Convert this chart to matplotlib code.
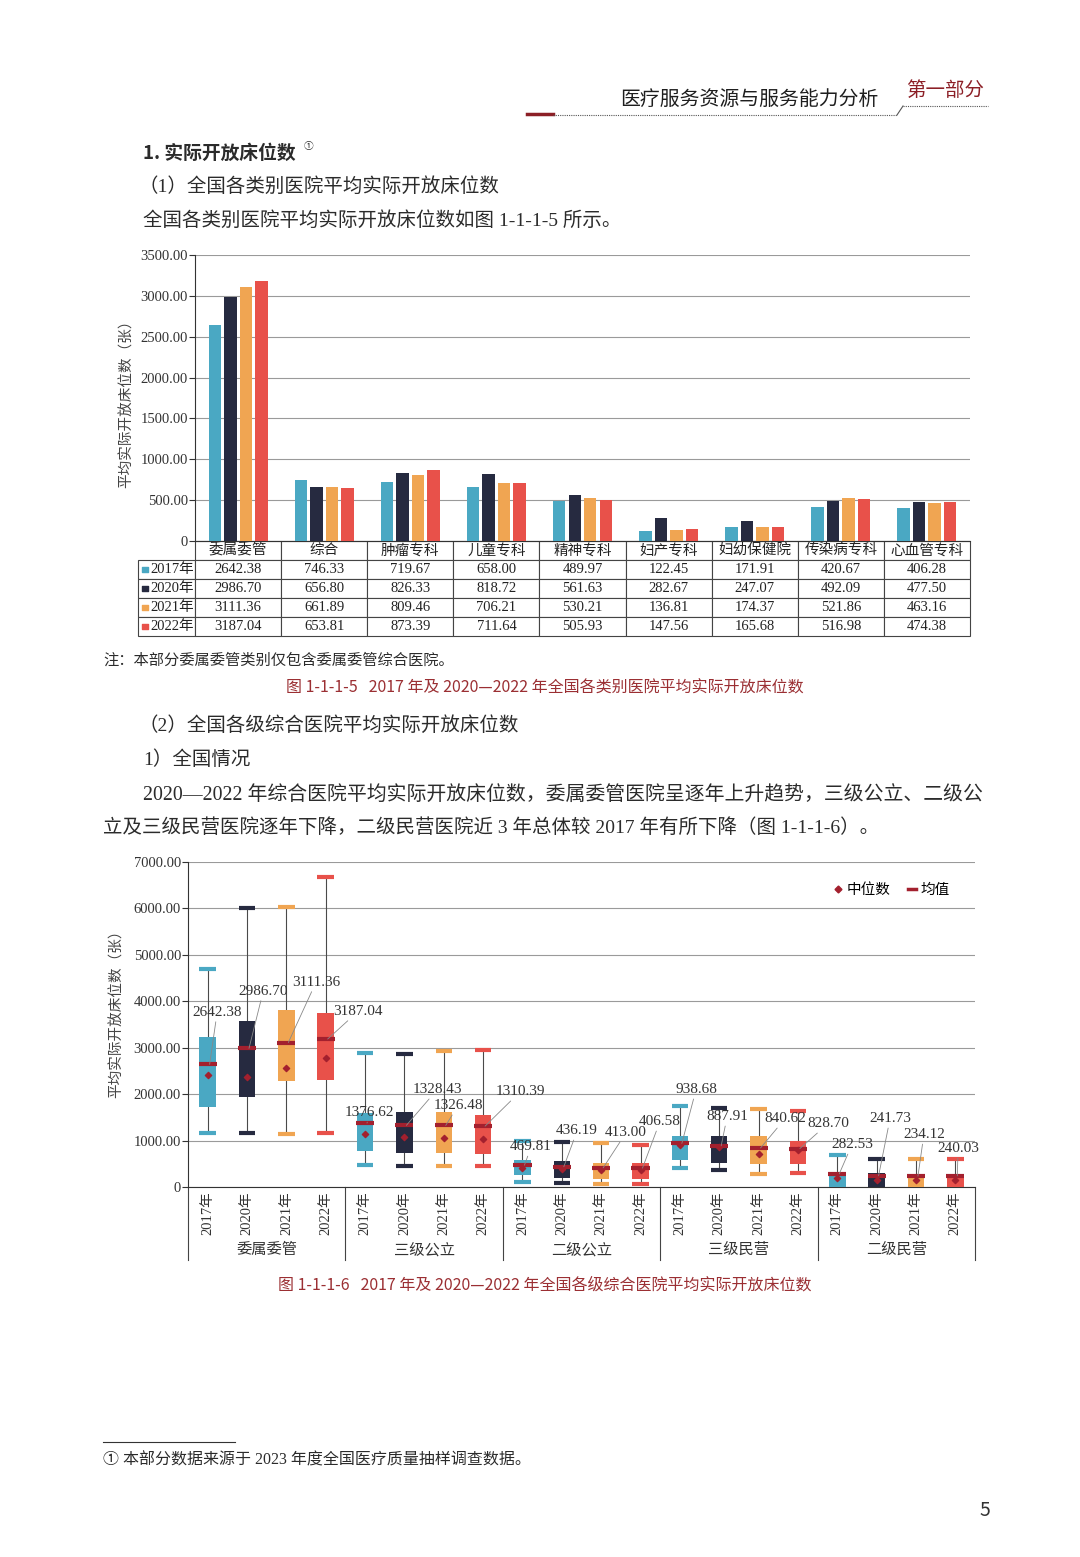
import matplotlib
matplotlib.use('Agg')
import matplotlib.pyplot as plt
from matplotlib.lines import Line2D
from matplotlib.table import Table

W, H = 1080, 1557
SERIF_CJK = ['Liberation Serif', 'Noto Sans CJK SC']
SANS_CJK = ['Noto Sans CJK SC', 'DejaVu Sans']
plt.rcParams['font.family'] = SERIF_CJK

# ---- données graphique 1 (barres + tableau)
categories = ['委属委管', '综合', '肿瘤专科', '儿童专科', '精神专科',
              '妇产专科', '妇幼保健院', '传染病专科', '心血管专科']
years = ['2017年', '2020年', '2021年', '2022年']
beds_2017 = [2642.38, 746.33, 719.67, 658.00, 489.97, 122.45, 171.91, 420.67, 406.28]
beds_2020 = [2986.70, 656.80, 826.33, 818.72, 561.63, 282.67, 247.07, 492.09, 477.50]
beds_2021 = [3111.36, 661.89, 809.46, 706.21, 530.21, 136.81, 174.37, 521.86, 463.16]
beds_2022 = [3187.04, 653.81, 873.39, 711.64, 505.93, 147.56, 165.68, 516.98, 474.38]
bar_ticks = [0, 500, 1000, 1500, 2000, 2500, 3000, 3500]

# ---- données graphique 2 (boîtes)
groups = ['委属委管', '三级公立', '二级公立', '三级民营', '二级民营']
box_mean = [2642.38, 2986.70, 3111.36, 3187.04,
            1376.62, 1328.43, 1326.48, 1310.39,
            469.81, 436.19, 413.00, 406.58,
            938.68, 887.91, 840.62, 828.70,
            282.53, 241.73, 234.12, 240.03]
box_median = [2410, 2374, 2554, 2778,
              1147, 1082, 1060, 1024,
              416, 394, 365, 358,
              912, 869, 708, 796,
              197, 161, 161, 161]
box_low = [1154, 1154, 1133, 1169,
           483, 462, 462, 447,
           110, 88, 73, 66,
           401, 365, 270, 307,
           30, 15, 5, 5]
box_q1 = [1732, 1948, 2273, 2302,
          772, 736, 736, 721,
          248, 197, 182, 182,
          584, 526, 489, 489,
          75, 51, 20, 20]
box_q3 = [3225, 3571, 3817, 3737,
          1601, 1623, 1623, 1558,
          577, 562, 526, 526,
          1095, 1109, 1095, 1000,
          321, 292, 270, 270]
box_high = [4704, 6017, 6039, 6667,
            2879, 2864, 2922, 2958,
            1000, 978, 942, 912,
            1745, 1693, 1672, 1635,
            686, 598, 598, 598]
box_ticks = [0, 1000, 2000, 3000, 4000, 5000, 6000, 7000]

# positions des étiquettes (index de boîte, valeur)
label_pos = [(0.24, 3758), (1.41, 4212), (2.75, 4406), (3.82, 3780),
             (4.10, 1598), (5.83, 2095), (6.36, 1750), (7.94, 2052),
             (8.22, 864), (9.39, 1210), (10.63, 1166), (11.49, 1404),
             (12.41, 2095), (13.20, 1512), (14.67, 1469), (15.76, 1361),
             (16.37, 907), (17.34, 1469), (18.20, 1123), (19.07, 821)]

colors = ['#4aa8c3', '#262a40', '#f0a552', '#e8514a']
DARKRED = '#a3202e'
CAPRED = '#9b2f33'
TXT = '#2b2b2b'


def fx(x):
    return x / W


def fy(y):
    return 1 - y / H


fig = plt.figure(figsize=(W / 100, H / 100), dpi=100, facecolor='white')

# ___ en-tête de page
fig.text(fx(878), fy(99), '医疗服务资源与服务能力分析', family=SANS_CJK, fontsize=14.3,
         ha='right', va='center', color='#1e1e1e')
fig.text(fx(906), fy(90), '第一部分', family=SANS_CJK, fontsize=14,
         ha='left', va='center', color='#8c1f26')
fig.add_artist(Line2D([fx(527), fx(553)], [fy(114), fy(114)], color='#8c1f26', lw=2.5))
fig.add_artist(Line2D([fx(553), fx(897)], [fy(115), fy(115)], color='#555555',
                      lw=0.8, ls=(0, (1, 1))))
fig.add_artist(Line2D([fx(897), fx(903)], [fy(115), fy(106)], color='#555555', lw=0.8))
fig.add_artist(Line2D([fx(903), fx(988)], [fy(106), fy(106)], color='#555555',
                      lw=0.8, ls=(0, (1, 1))))

fig.text(fx(143), fy(153), '1. 实际开放床位数', family=SANS_CJK, fontsize=13.5,
         weight='bold', ha='left', va='center', color=TXT)
fig.text(fx(304), fy(146), '①', family=SANS_CJK, fontsize=7, ha='left', va='center',
         color=TXT)
fig.text(fx(138), fy(187), '（1）全国各类别医院平均实际开放床位数', fontsize=14,
         ha='left', va='center', color=TXT)
fig.text(fx(143), fy(221), '全国各类别医院平均实际开放床位数如图 1-1-1-5 所示。', fontsize=14,
         ha='left', va='center', color=TXT)

# ___ graphique 1
ax1 = fig.add_axes([fx(195), fy(541), 775 / W, 286 / H])
x = list(range(len(categories)))
series = [beds_2017, beds_2020, beds_2021, beds_2022]
offsets = [-0.27, -0.09, 0.09, 0.27]
for vals, off, c in zip(series, offsets, colors):
    ax1.bar([i + off for i in x], vals, width=0.145, color=c, zorder=3)
ax1.set_xlim(-0.5, len(categories) - 0.5)
ax1.set_ylim(0, 3500)
ax1.set_yticks(bar_ticks)
ax1.set_yticklabels(['0' if t == 0 else f'{t:.2f}' for t in bar_ticks])
ax1.tick_params(axis='y', length=4, pad=1, labelsize=10.5, colors='#333333')
ax1.tick_params(axis='x', bottom=False, labelbottom=False)
ax1.yaxis.grid(True, color='#9a9a9a', lw=0.8, zorder=0)
for s in ['top', 'right']:
    ax1.spines[s].set_visible(False)
ax1.spines['left'].set_color('#333333')
ax1.spines['bottom'].set_color('#333333')

# tableau sous le graphique
first_w = 57 / 832
col_w = 86.1 / 832
tbl = Table(ax1, bbox=[-57 / 775, -95 / 286, 832 / 775, 95 / 286])
header = [''] + categories
for c, txt in enumerate(header):
    w = first_w if c == 0 else col_w
    cell = tbl.add_cell(0, c, width=w, height=0.2, text=txt, loc='center')
    if c == 0:
        cell.visible_edges = ''
for r, (yr, vals) in enumerate(zip(years, series), start=1):
    cell = tbl.add_cell(r, 0, width=first_w, height=0.2, text=yr, loc='right')
    cell.PAD = 0.02
    for c, v in enumerate(vals, start=1):
        tbl.add_cell(r, c, width=col_w, height=0.2, text=f'{v:.2f}', loc='center')
tbl.auto_set_font_size(False)
tbl.set_fontsize(10.5)
for (r, c), cell in tbl.get_celld().items():
    cell.set_edgecolor('#444444')
    cell.set_linewidth(0.8)
    cell.get_text().set_fontfamily(SERIF_CJK)
    cell.get_text().set_color('#222222')
ax1.add_table(tbl)
row_h = (95 / 286) / 5
ax1.scatter([-50 / 775] * 4, [-row_h * (r + 0.5) for r in range(1, 5)], marker='s',
            s=16, color=colors, transform=ax1.transAxes, clip_on=False, zorder=5)

fig.text(fx(127), fy(400), '平均实际开放床位数（张）', rotation=90, fontsize=10.5,
         ha='center', va='center', color='#444444')

fig.text(fx(103), fy(660), '注：本部分委属委管类别仅包含委属委管综合医院。', fontsize=11,
         ha='left', va='center', color=TXT)
fig.text(fx(545), fy(688), '图 1-1-1-5   2017 年及 2020—2022 年全国各类别医院平均实际开放床位数',
         family=SANS_CJK, fontsize=11.5, ha='center', va='center', color=CAPRED)

fig.text(fx(138), fy(726), '（2）全国各级综合医院平均实际开放床位数', fontsize=14,
         ha='left', va='center', color=TXT)
fig.text(fx(143), fy(760), '1）全国情况', fontsize=14, ha='left', va='center', color=TXT)
fig.text(fx(143), fy(795),
         '2020—2022 年综合医院平均实际开放床位数，委属委管医院呈逐年上升趋势，三级公立、二级公',
         fontsize=14.3, ha='left', va='center', color=TXT)
fig.text(fx(103), fy(828),
         '立及三级民营医院逐年下降，二级民营医院近 3 年总体较 2017 年有所下降（图 1-1-1-6）。',
         fontsize=14, ha='left', va='center', color=TXT)

# ___ graphique 2
ax2 = fig.add_axes([fx(188), fy(1187), 787 / W, 325 / H])
n = len(box_mean)
bw = 0.42
for i in range(n):
    c = colors[i % 4]
    ax2.vlines(i, box_low[i], box_high[i], color='#4a4a4a', lw=0.8, zorder=2)
    ax2.bar(i, box_q3[i] - box_q1[i], bottom=box_q1[i], width=bw, color=c, zorder=3)
    ax2.hlines([box_low[i], box_high[i]], i - bw / 2, i + bw / 2, color=c, lw=3, zorder=3)
    ax2.hlines(box_mean[i], i - bw / 2 - 0.02, i + bw / 2 + 0.02, color=DARKRED, lw=3,
               zorder=4)
ax2.scatter(range(n), box_median, marker='D', s=10, color=DARKRED, zorder=5)

for i, (m, (tx, ty)) in enumerate(zip(box_mean, label_pos)):
    ax2.annotate(f'{m:.2f}', xy=(i + 0.05, m), xytext=(tx, ty), textcoords='data',
                 ha='center', va='center', fontsize=11, color='#333333', zorder=6,
                 arrowprops=dict(arrowstyle='-', color='#888888', lw=0.6,
                                 shrinkA=0, shrinkB=0))

ax2.set_xlim(-0.5, n - 0.5)
ax2.set_ylim(0, 7000)
ax2.set_yticks(box_ticks)
ax2.set_yticklabels(['0' if t == 0 else f'{t:.2f}' for t in box_ticks])
ax2.set_xticks(range(n))
ax2.set_xticklabels(years * len(groups), rotation=90, fontsize=10.5, color='#333333')
ax2.tick_params(axis='x', length=0, pad=3)
ax2.tick_params(axis='y', length=4, pad=1, labelsize=10.5, colors='#333333')
ax2.yaxis.grid(True, color='#9a9a9a', lw=0.8, zorder=0)
for s in ['top', 'right']:
    ax2.spines[s].set_visible(False)
ax2.spines['left'].set_color('#333333')
ax2.spines['bottom'].set_color('#333333')

trans = ax2.get_xaxis_transform()
for g in range(len(groups) + 1):
    xs = g * 4 - 0.5
    ax2.plot([xs, xs], [0, -73 / 325], transform=trans, color='#444444', lw=0.8,
             clip_on=False)
for g, name in enumerate(groups):
    ax2.text(g * 4 + 1.5, -63 / 325, name, transform=trans, ha='center', va='center',
             fontsize=11, color='#333333')

handles = [Line2D([], [], marker='D', ls='None', color=DARKRED, markersize=3.5,
                  label='中位数'),
           Line2D([], [], color=DARKRED, lw=2.5, label='均值')]
ax2.legend(handles=handles, loc='upper right', bbox_to_anchor=(0.985, 0.975), ncol=2,
           frameon=False, handlelength=0.6, handletextpad=0.3, columnspacing=1.2,
           prop={'family': SANS_CJK, 'size': 10.5})

fig.text(fx(117), fy(1010), '平均实际开放床位数（张）', rotation=90, fontsize=10.5,
         ha='center', va='center', color='#444444')

fig.text(fx(545), fy(1285), '图 1-1-1-6   2017 年及 2020—2022 年全国各级综合医院平均实际开放床位数',
         family=SANS_CJK, fontsize=11.5, ha='center', va='center', color=CAPRED)

# ___ note de bas de page
fig.add_artist(Line2D([fx(103), fx(235)], [fy(1442), fy(1442)], color='#333333', lw=0.8))
fig.text(fx(103), fy(1460), '① 本部分数据来源于 2023 年度全国医疗质量抽样调查数据。',
         fontsize=11.5, ha='left', va='center', color=TXT)
fig.text(fx(990), fy(1510), '5', family=SANS_CJK, fontsize=14, ha='right', va='center',
         color='#333333')

fig.savefig('out.png', dpi=100, facecolor='white')
